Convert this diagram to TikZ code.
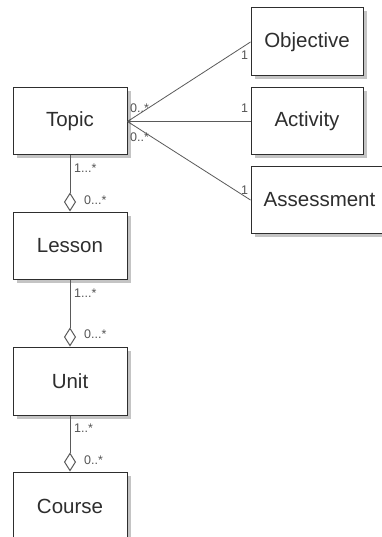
\documentclass[tikz,border=0pt]{standalone}
\usepackage{fontspec}
\setmainfont{Liberation Sans}
\usetikzlibrary{arrows.meta,shadows}
\definecolor{ink}{HTML}{2E2E2E}
\definecolor{lbl}{HTML}{555555}
\definecolor{wire}{HTML}{5A5A5A}
\definecolor{shade}{HTML}{C4C4C4}
\tikzset{
  cls/.style={draw=ink, line width=1pt, fill=white, text=ink,
    font=\fontsize{20.5}{24}\selectfont, inner sep=0pt,
    drop shadow={shadow xshift=3.5pt, shadow yshift=-3.5pt, fill=shade, opacity=1}},
  mult/.style={anchor=west, inner sep=0pt, text=lbl, font=\fontsize{12.5}{14}\selectfont},
  assoc/.style={draw=wire, line width=0.8pt},
  aggr/.style={draw=wire, line width=1pt,
    -{Diamond[open, length=19pt, width=12pt, line width=1pt, fill=white]}},
}
\begin{document}
\begin{tikzpicture}[x=1pt, y=-1pt]
\useasboundingbox[fill=white] (0,0) rectangle (382,537);

% classes
\node[cls, minimum width=114pt, minimum height=67pt] (topic)     at (70,121.5) {Topic};
\node[cls, minimum width=112pt, minimum height=68pt] (objective) at (307,42)   {Objective};
\node[cls, minimum width=112pt, minimum height=67pt] (activity)  at (307,121.5) {Activity};
\node[cls, minimum width=137pt, minimum height=66pt] (assess)    at (319.5,200) {Assessment};
\node[cls, minimum width=114pt, minimum height=67pt] (lesson)    at (70,245.5) {Lesson};
\node[cls, minimum width=114pt, minimum height=68pt] (unit)      at (70,381)   {Unit};
\node[cls, minimum width=114pt, minimum height=68pt] (course)    at (70,506)   {Course};

% associations towards Topic
\draw[assoc] (topic.east) -- (objective.west);
\draw[assoc, {Straight Barb[length=3pt, width=5pt]}-] (topic.east) -- (activity.west);
\draw[assoc] (topic.east) -- (assess.west);

\node[mult] (m1) at (130,108) {0..*};
\node[mult] (m2) at (130,137) {0..*};
\node[mult] (m3) at (241,55)  {1};
\node[mult] (m4) at (241,108) {1};
\node[mult] (m5) at (241,190) {1};

% aggregations
\draw[aggr] (topic.south) -- (lesson.north);
\draw[aggr] (lesson.south) -- (unit.north);
\draw[aggr] (unit.south) -- (course.north);

\node[mult] (m6)  at (74,168) {1...*};
\node[mult] (m7)  at (84,200) {0...*};
\node[mult] (m8)  at (74,293) {1...*};
\node[mult] (m9)  at (84,334) {0...*};
\node[mult] (m10) at (74,428) {1..*};
\node[mult] (m11) at (84,460) {0..*};
\end{tikzpicture}
\end{document}
